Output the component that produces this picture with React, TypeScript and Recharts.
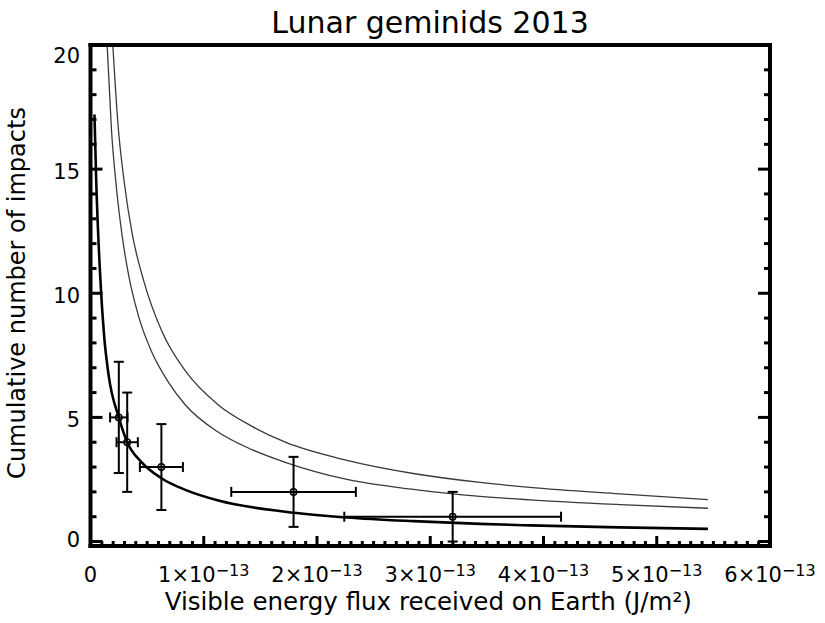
import { ComposedChart, ErrorBar, Line, Scatter, XAxis, YAxis } from "recharts";

const FONT = '"DejaVu Sans", sans-serif';

// flux values are in units of 1e-13 J/m^2
const X_MAJOR = [0, 1, 2, 3, 4, 5, 6];
const X_ALL_TICKS = Array.from({ length: 61 }, (_, i) => i / 10);
const Y_MAJOR = [0, 5, 10, 15, 20];
const Y_ALL_TICKS = Array.from({ length: 21 }, (_, i) => i);

// observed impacts (cumulative) with error bars
const OBS_X = [0.25, 0.324, 0.626, 1.793, 3.198];
const OBS_Y = [5, 4, 3, 2, 1];
const OBS_XERR = [0.077, 0.094, 0.19, 0.55, 0.957];
const OBS_YERR = [2.24, 2.0, 1.73, 1.41, 1.0];

// fitted curves
const UPPER_X = [0.197, 0.241, 0.3, 0.368, 0.47, 0.632, 0.838, 1.129, 1.426, 1.72, 2.264, 2.851, 3.439, 3.88, 4.674, 5.452];
const UPPER_Y = [20.0, 16.9, 14.4, 12.4, 10.5, 8.45, 6.87, 5.5, 4.64, 4.0, 3.27, 2.74, 2.38, 2.18, 1.92, 1.69];

const MID_X = [0.147, 0.185, 0.23, 0.28, 0.338, 0.426, 0.544, 0.69, 0.838, 1.129, 1.426, 1.72, 2.264, 2.851, 3.439, 3.88, 4.674, 5.452];
const MID_Y = [20.0, 16.6, 14.2, 12.3, 10.7, 9.05, 7.6, 6.4, 5.5, 4.4, 3.7, 3.19, 2.5, 2.1, 1.82, 1.68, 1.49, 1.34];

const THICK_X = [0.035, 0.05, 0.088, 0.12, 0.16, 0.25, 0.324, 0.45, 0.626, 0.838, 1.129, 1.72, 2.264, 2.851, 3.439, 3.88, 4.674, 5.452];
const THICK_Y = [17.2, 14.6, 10.5, 8.3, 6.7, 5.0, 4.0, 3.2, 2.55, 2.08, 1.65, 1.2, 0.97, 0.82, 0.71, 0.65, 0.57, 0.51];

const toPoints = (xs: number[], ys: number[]) => xs.map((x, i) => ({ x, y: ys[i] }));

const upper = toPoints(UPPER_X, UPPER_Y);
const middle = toPoints(MID_X, MID_Y);
const thick = toPoints(THICK_X, THICK_Y);
const observed = OBS_X.map((x, i) => ({ x, y: OBS_Y[i], ex: OBS_XERR[i], ey: OBS_YERR[i] }));

const W = 825;
const H = 623;
const MARGIN = { top: 45, right: 55, bottom: 0, left: 30.5 };
const Y_AXIS_W = 60;
const X_AXIS_H = 77;

const X_DOMAIN: [number, number] = [0, 6];
const Y_DOMAIN: [number, number] = [-0.18, 20];

const AXIS_LINE = { stroke: "#000", strokeWidth: 4, strokeLinecap: "square" as const };

const isMajorX = (v: number) => X_MAJOR.some((m) => Math.abs(m - v) < 1e-6);
const isMajorY = (v: number) => Y_MAJOR.some((m) => Math.abs(m - v) < 1e-6);

function BottomLabel({ x, y, payload }: any) {
  const n = Math.round(payload.value);
  return (
    <text x={x} y={y + 36} textAnchor="middle" fontFamily={FONT} fontSize={21} fill="#000">
      {n === 0 ? (
        "0"
      ) : (
        <>
          {`${n}×10`}
          <tspan dy={-6} fontSize={16}>
            −13
          </tspan>
        </>
      )}
    </text>
  );
}

function LeftLabel({ x, y, payload }: any) {
  const v = payload.value;
  const dy = v === 20 ? 18 : v === 0 ? 5.5 : 10;
  return (
    <text x={x - 10.5} y={y + dy} textAnchor="end" fontFamily={FONT} fontSize={21} fill="#000">
      {v}
    </text>
  );
}

// inward tick marks
function BottomTickMark({ x, y, payload }: any) {
  const len = isMajorX(payload.value) ? 10 : 5;
  return <line x1={x} x2={x} y1={y} y2={y - len} stroke="#000" strokeWidth={3} />;
}

function TopTickMark({ x, y, payload }: any) {
  const len = isMajorX(payload.value) ? 10 : 5;
  return <line x1={x} x2={x} y1={y} y2={y + len} stroke="#000" strokeWidth={3} />;
}

function LeftTickMark({ x, y, payload }: any) {
  const len = isMajorY(payload.value) ? 12 : 6;
  return <line x1={x} x2={x + len} y1={y} y2={y} stroke="#000" strokeWidth={3} />;
}

function RightTickMark({ x, y, payload }: any) {
  const len = isMajorY(payload.value) ? 12 : 6;
  return <line x1={x} x2={x - len} y1={y} y2={y} stroke="#000" strokeWidth={3} />;
}

function XTitle(props: any) {
  const vb = props.viewBox ?? { x: 90.5, y: 546, width: 679.5, height: X_AXIS_H };
  return (
    <text x={vb.x + vb.width / 2 - 2} y={vb.y + 64} textAnchor="middle" fontFamily={FONT} fontSize={24.5} fill="#000">
      Visible energy flux received on Earth (J/m²)
    </text>
  );
}

function YTitle(props: any) {
  const vb = props.viewBox ?? { x: 30.5, y: 45, width: Y_AXIS_W, height: 501 };
  const cx = vb.x - 5.5;
  const cy = vb.y + vb.height / 2 - 2.5;
  return (
    <text x={cx} y={cy} transform={`rotate(-90 ${cx} ${cy})`} textAnchor="middle" fontFamily={FONT} fontSize={24} fill="#000">
      Cumulative number of impacts
    </text>
  );
}

function OpenCircle(props: any) {
  return <circle cx={props.cx} cy={props.cy} r={3.2} fill="none" stroke="#000" strokeWidth={1.5} />;
}

export default function App() {
  return (
    <div style={{ position: "absolute", left: 0, top: 0, width: W, height: H, background: "#fff" }}>
      <div
        style={{
          position: "absolute",
          left: 0,
          top: 8,
          width: W,
          paddingLeft: 35,
          boxSizing: "border-box",
          textAlign: "center",
          fontFamily: FONT,
          fontSize: 30,
          lineHeight: "30px",
          color: "#000",
        }}
      >
        Lunar geminids 2013
      </div>
      <div style={{ position: "absolute", left: 0, top: 0 }}>
        <ComposedChart width={W} height={H} margin={MARGIN}>
          <XAxis
            xAxisId="x"
            type="number"
            dataKey="x"
            domain={X_DOMAIN}
            allowDataOverflow
            ticks={X_MAJOR}
            interval={0}
            height={X_AXIS_H}
            tickSize={0}
            tickMargin={0}
            axisLine={AXIS_LINE}
            tickLine={false}
            tick={<BottomLabel />}
            label={<XTitle />}
          />
          <XAxis
            xAxisId="xtop"
            orientation="top"
            type="number"
            domain={X_DOMAIN}
            allowDataOverflow
            mirror
            ticks={X_ALL_TICKS}
            interval={0}
            height={1}
            tickSize={0}
            tickMargin={0}
            axisLine={AXIS_LINE}
            tickLine={false}
            tick={<TopTickMark />}
          />
          <YAxis
            yAxisId="y"
            type="number"
            dataKey="y"
            domain={Y_DOMAIN}
            allowDataOverflow
            ticks={Y_MAJOR}
            interval={0}
            width={Y_AXIS_W}
            tickSize={0}
            tickMargin={0}
            axisLine={AXIS_LINE}
            tickLine={false}
            tick={<LeftLabel />}
            label={<YTitle />}
          />
          <YAxis
            yAxisId="yright"
            orientation="right"
            type="number"
            domain={Y_DOMAIN}
            allowDataOverflow
            mirror
            ticks={Y_ALL_TICKS}
            interval={0}
            width={1}
            tickSize={0}
            tickMargin={0}
            axisLine={AXIS_LINE}
            tickLine={false}
            tick={<RightTickMark />}
          />
          <Line
            xAxisId="x"
            yAxisId="y"
            data={upper}
            dataKey="y"
            type="monotone"
            stroke="#3a3a3a"
            strokeWidth={1.3}
            dot={false}
            isAnimationActive={false}
          />
          <Line
            xAxisId="x"
            yAxisId="y"
            data={middle}
            dataKey="y"
            type="monotone"
            stroke="#3a3a3a"
            strokeWidth={1.3}
            dot={false}
            isAnimationActive={false}
          />
          <Line
            xAxisId="x"
            yAxisId="y"
            data={thick}
            dataKey="y"
            type="monotone"
            stroke="#000"
            strokeWidth={2.6}
            dot={false}
            isAnimationActive={false}
          />
          <Scatter xAxisId="x" yAxisId="y" data={observed} dataKey="y" shape={<OpenCircle />} isAnimationActive={false}>
            <ErrorBar dataKey="ex" direction="x" width={5} stroke="#000" strokeWidth={2} isAnimationActive={false} />
            <ErrorBar dataKey="ey" direction="y" width={5} stroke="#000" strokeWidth={2} isAnimationActive={false} />
          </Scatter>
        </ComposedChart>
      </div>
      {/* second chart with the same geometry, only for the inward ticks on the bottom and left frame */}
      <div style={{ position: "absolute", left: 0, top: 0, pointerEvents: "none" }}>
        <ComposedChart width={W} height={H} margin={MARGIN}>
          <XAxis
            xAxisId="x"
            type="number"
            dataKey="x"
            domain={X_DOMAIN}
            ticks={X_ALL_TICKS}
            interval={0}
            height={X_AXIS_H}
            tickSize={0}
            tickMargin={0}
            axisLine={false}
            tickLine={false}
            tick={<BottomTickMark />}
          />
          <YAxis
            yAxisId="y"
            type="number"
            dataKey="y"
            domain={Y_DOMAIN}
            ticks={Y_ALL_TICKS}
            interval={0}
            width={Y_AXIS_W}
            tickSize={0}
            tickMargin={0}
            axisLine={false}
            tickLine={false}
            tick={<LeftTickMark />}
          />
          <Line
            xAxisId="x"
            yAxisId="y"
            data={thick}
            dataKey="y"
            stroke="none"
            dot={false}
            activeDot={false}
            isAnimationActive={false}
          />
        </ComposedChart>
      </div>
    </div>
  );
}
